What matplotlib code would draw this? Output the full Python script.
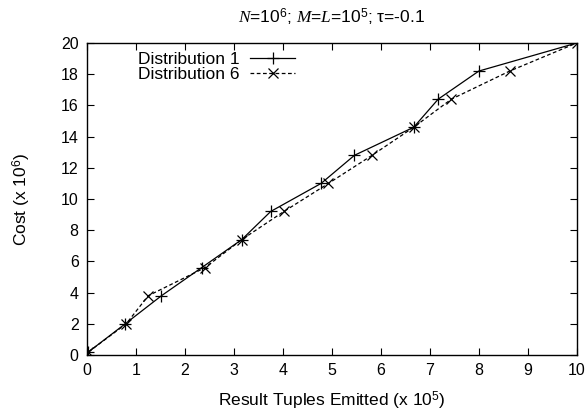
import matplotlib
matplotlib.use("Agg")
import matplotlib.pyplot as plt

# ── data ──────────────────────────────────────────────────────────
cost = [0.2, 2.0, 3.8, 5.6, 7.4, 9.2, 11.0, 12.8, 14.6, 16.4, 18.2, 20.0]
dist1_x = [0.03, 0.78, 1.52, 2.34, 3.16, 3.75, 4.78, 5.46, 6.67, 7.17, 8.0, 10.0]
dist6_x = [0.03, 0.80, 1.25, 2.41, 3.16, 4.02, 4.93, 5.82, 6.67, 7.44, 8.63, 10.0]
x_ticks = list(range(0, 11))
y_ticks = list(range(0, 21, 2))

plt.rcParams["font.family"] = ["Liberation Sans", "DejaVu Sans"]
plt.rcParams["mathtext.fontset"] = "custom"
plt.rcParams["mathtext.rm"] = "Liberation Sans"
plt.rcParams["mathtext.it"] = "Liberation Serif:italic"

fig = plt.figure(figsize=(5.88, 4.18), dpi=100, facecolor="white")
ax = fig.add_axes([0.148, 0.1507, 0.833, 0.7465])

ax.plot(dist1_x, cost, color="black", linewidth=0.9, marker="+",
        markersize=8, markeredgewidth=0.9, label="Distribution 1")
ax.plot(dist6_x, cost, color="black", linewidth=0.9, linestyle=(0, (3, 2)),
        marker="x", markersize=7, markeredgewidth=0.9, label="Distribution 6")

ax.set_xlim(0, 10)
ax.set_ylim(0, 20)
ax.set_xticks(x_ticks)
ax.set_yticks(y_ticks)
ax.tick_params(direction="in", top=True, right=True, length=5, width=0.8,
               labelsize=11.5, pad=6)
for s in ax.spines.values():
    s.set_linewidth(1.0)

ax.set_xlabel(r"Result Tuples Emitted (x 10$^{5}$)", fontsize=12.5, labelpad=8)
ax.set_ylabel(r"Cost (x 10$^{6}$)", fontsize=12.5, labelpad=20)

# N, M, L italic serif, rest sans (gnuplot-style)
ax.set_title(r"$N$=10$^{6}$; $M$=$L$=10$^{5}$; $\mathrm{\tau}$=-0.1",
             fontsize=12.5, pad=14)

ax.legend(loc="upper right", bbox_to_anchor=(0.45, 1.01), frameon=False,
          markerfirst=False, fontsize=12.5, handlelength=2.6,
          borderpad=0.2, labelspacing=0.0, handletextpad=0.6)

fig.savefig("out.png", dpi=100, facecolor="white")
